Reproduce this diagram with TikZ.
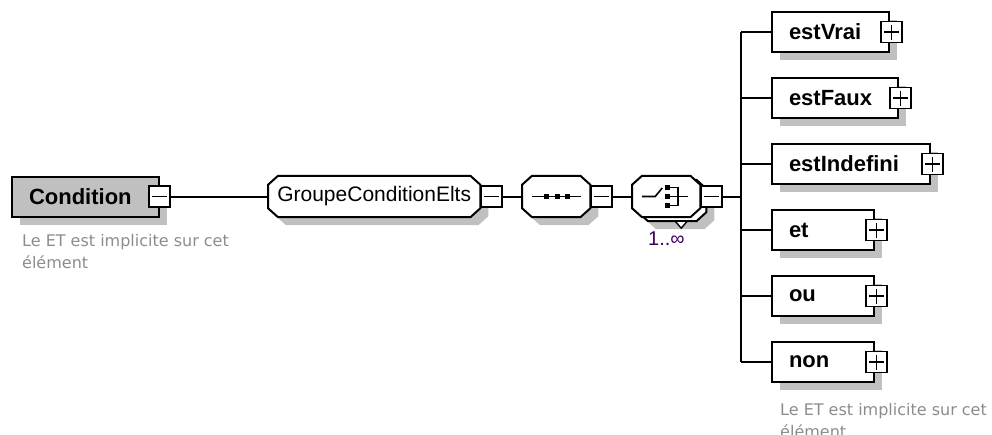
\documentclass[tikz,border=0pt]{standalone}
\usepackage{fontspec}
\setmainfont{Liberation Sans}
\newfontfamily\notefont{DejaVu Sans}
\usetikzlibrary{shadows,backgrounds}

\newcommand{\modelpath}[1]{([xshift=10pt]#1.north west) -- ([xshift=-10pt]#1.north east) -- ([yshift=-9pt]#1.north east) -- ([yshift=9pt]#1.south east) -- ([xshift=-10pt]#1.south east) -- ([xshift=10pt]#1.south west) -- ([yshift=9pt]#1.south west) -- ([yshift=-9pt]#1.north west) -- cycle}

\begin{document}
\begin{tikzpicture}[x=1pt,y=-1pt,
	shade box/.style={drop shadow={shadow xshift=8pt, shadow yshift=-8pt, fill=SHADOW, opacity=1}},
	elt/.style={shade box, draw=BLACK, line width=2, fill=WHITE, minimum height=40, inner xsep=17pt, inner ysep=0pt, text width=#1-34pt, align=left, anchor=west, font=\fontsize{22}{22}\selectfont\bfseries},
	model/.style={rectangle, minimum height=41, minimum width=#1, inner sep=0pt, anchor=west, font=\fontsize{21}{21}\selectfont},
	model line/.style={draw=BLACK, line width=2, fill=WHITE},
	minus/.style={draw=BLACK, fill=WHITE, line width=1.6, minimum size=21, inner sep=0pt,
		path picture={\draw[BLACK, line width=1.4] ([xshift=3pt]path picture bounding box.west) -- ([xshift=-3pt]path picture bounding box.east);}},
	plus/.style={draw=BLACK, fill=WHITE, line width=1.6, minimum size=21, inner sep=0pt,
		path picture={\draw[BLACK, line width=1.4] ([xshift=3pt]path picture bounding box.west) -- ([xshift=-3pt]path picture bounding box.east)
			([yshift=3pt]path picture bounding box.south) -- ([yshift=-3pt]path picture bounding box.north);}},
	wire/.style={BLACK, line width=2},
	sym/.style={BLACK, line width=1.6},
	note/.style={NOTE, font=\notefont\fontsize{16}{22}\selectfont, align=left, anchor=north west, inner sep=0pt}
	]
	\definecolor{BLACK}{RGB}{0,0,0}
	\definecolor{WHITE}{RGB}{255,255,255}
	\definecolor{SHADOW}{RGB}{192,192,192}
	\definecolor{CONDFILL}{RGB}{192,192,192}
	\definecolor{NOTE}{RGB}{140,140,140}
	\definecolor{CARD}{RGB}{64,0,96}
	\useasboundingbox (0,0) rectangle (992,434);

	\node[elt=147pt, fill=CONDFILL] (cond) at (11,196.5) {Condition};
	\node[minus] (cond-m) at ([xshift=-0.5]cond.east) {};
	\node[note] (condnote) at (22,234) {Le ET est implicite sur cet\\élément};

	\node[model=212] (grp) at (268,196.5) {GroupeConditionElts};
	\node[minus, anchor=west] (grp-m) at (grp.east) {};

	\node[model=68] (seq) at (522,196.5) {};
	\node[minus, anchor=west] (seq-m) at (seq.east) {};
	\draw[sym] ([xshift=-24]seq.center) -- ([xshift=25]seq.center);
	\foreach \dx in {-10,1,11}
		\fill[BLACK] ([shift={(\dx-2.5,-2.5)}]seq.center) rectangle +(5,5);

	\node[model=68] (choiceback) at (638,200.5) {};
	\node[model=68] (choice) at (632,196.5) {};
	\node[minus, anchor=west] (choice-m) at (choice.east) {};
	\draw[sym] ([xshift=-24]choice.center) -- ([xshift=-11]choice.center) -- ([shift={(-4,-8.5)}]choice.center);
	\foreach \dy in {-9,0,9}
		\fill[BLACK] ([shift={(-1.5,\dy-2.5)}]choice.center) rectangle +(5,5);
	\draw[sym] ([shift={(3.5,-9)}]choice.center) -- ([shift={(12,-9)}]choice.center) -- ([shift={(12,9)}]choice.center) -- ([shift={(3.5,9)}]choice.center);
	\draw[sym] ([xshift=3.5]choice.center) -- ([xshift=22]choice.center);
	\draw[BLACK, line width=1.4, fill=WHITE] ([shift={(3,0)}]choiceback.south) -- ([shift={(15,0)}]choiceback.south) -- ([shift={(9,7)}]choiceback.south) -- cycle;
	\node[CARD, font=\fontsize{20}{20}\selectfont, anchor=base west, inner sep=0pt] (card) at (648,245) {1..∞};

	\begin{scope}[on background layer]
		\draw[model line, shade box] \modelpath{grp};
		\draw[model line, shade box] \modelpath{seq};
		\draw[model line, shade box] \modelpath{choiceback};
		\draw[model line] \modelpath{choice};
	\end{scope}

	\coordinate (trunk) at (741,196.5);
	\foreach \name/\txt/\w [count=\i from 0] in {vrai/estVrai/117pt, faux/estFaux/126pt, indef/estIndefini/158pt, et/et/102pt, ou/ou/102pt, non/non/102pt}
	{
		\node[elt=\w] (\name) at (771,32+66*\i) {\txt};
		\node[plus] (\name-p) at ([xshift=1.5]\name.east) {};
	}
	\node[note] (nonnote) at (780,403) {Le ET est implicite sur cet\\élément};

	\draw[wire] (cond-m.east) -- (grp.west);
	\draw[wire] (grp-m.east) -- (seq.west);
	\draw[wire] (seq-m.east) -- (choice.west);
	\draw[wire] (choice-m.east) -- (trunk);
	\draw[wire] (trunk |- vrai.west) -- (trunk |- non.west);
	\foreach \name in {vrai,faux,indef,et,ou,non}
		\draw[wire] (trunk |- \name.west) -- (\name.west);
\end{tikzpicture}
\end{document}
